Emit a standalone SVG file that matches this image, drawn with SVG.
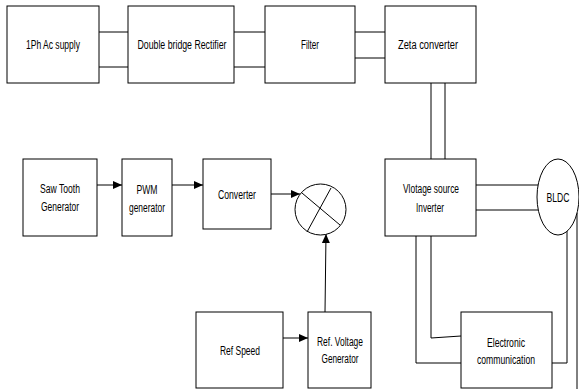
<svg xmlns="http://www.w3.org/2000/svg" width="579" height="389" viewBox="0 0 579 389">
<style>
.b{fill:#fff;stroke:#000;stroke-width:1}
.t{font-family:"Liberation Sans",Arial,sans-serif;font-size:12.5px;fill:#000;text-anchor:middle}
.c{fill:none;stroke:#000;stroke-width:1}
</style>
<defs>
<marker id="ah" markerUnits="userSpaceOnUse" markerWidth="10" markerHeight="10" refX="9" refY="4" orient="auto">
<path d="M0,0 L9,4 L0,8 Z" fill="#000"/>
</marker>
</defs>
<rect width="579" height="389" fill="#fff"/>
<g id="connectors">
<path class="c" d="M99,32H128M99,67H128"/>
<path class="c" d="M234,32H265M234,67H265"/>
<path class="c" d="M355,32H385M355,58H385"/>
<path class="c" d="M431,83V159M445,83V159"/>
<path class="c" d="M476,185H538M476,210H538"/>
<path class="c" d="M431,236V338L461,336M416,236V363H461"/>
<path class="c" d="M552,363H567V231M577,213V389"/>
<path class="c" d="M97,185H122" marker-end="url(#ah)"/>
<path class="c" d="M172,185H203" marker-end="url(#ah)"/>
<path class="c" d="M271,194H300" marker-end="url(#ah)"/>
<path class="c" d="M283,338H308" marker-end="url(#ah)"/>
<path class="c" d="M325,312L326,234" marker-end="url(#ah)"/>
</g>
<g id="n1"><rect class="b" x="7" y="6" width="92" height="77"/><text class="t" x="53" y="48.5" textLength="54" lengthAdjust="spacingAndGlyphs">1Ph Ac supply</text></g>
<g id="n2"><rect class="b" x="128" y="6" width="106" height="77"/><text class="t" x="182" y="48.5" textLength="89" lengthAdjust="spacingAndGlyphs">Double bridge Rectifier</text></g>
<g id="n3"><rect class="b" x="265" y="6" width="90" height="77"/><text class="t" x="310" y="48.5" textLength="18" lengthAdjust="spacingAndGlyphs">Filter</text></g>
<g id="n4"><rect class="b" x="385" y="6" width="91" height="77"/><text class="t" x="428" y="48.5" textLength="60" lengthAdjust="spacingAndGlyphs">Zeta converter</text></g>
<g id="n5"><rect class="b" x="23" y="159" width="74" height="77"/><text class="t" x="60" y="192.5" textLength="40" lengthAdjust="spacingAndGlyphs">Saw Tooth</text><text class="t" x="60" y="210.5" textLength="38" lengthAdjust="spacingAndGlyphs">Generator</text></g>
<g id="n6"><rect class="b" x="122" y="159" width="50" height="77"/><text class="t" x="147" y="193.5" textLength="21" lengthAdjust="spacingAndGlyphs">PWM</text><text class="t" x="147" y="211.5" textLength="36" lengthAdjust="spacingAndGlyphs">generator</text></g>
<g id="n7"><rect class="b" x="203" y="159" width="68" height="70"/><text class="t" x="237" y="198.5" textLength="38" lengthAdjust="spacingAndGlyphs">Converter</text></g>
<g id="n8"><circle class="b" cx="320.5" cy="209.5" r="25.5"/><path class="c" d="M302,193L340,225M331,188L307,232"/></g>
<g id="n9"><rect class="b" x="385" y="159" width="91" height="77"/><text class="t" x="431" y="192.5" textLength="56" lengthAdjust="spacingAndGlyphs">Vlotage source</text><text class="t" x="430" y="211.5" textLength="28" lengthAdjust="spacingAndGlyphs">Inverter</text></g>
<g id="n10"><ellipse class="b" cx="558" cy="197" rx="21" ry="38"/><text class="t" x="558" y="201.5" textLength="23" lengthAdjust="spacingAndGlyphs">BLDC</text></g>
<g id="n11"><rect class="b" x="196" y="312" width="87" height="76"/><text class="t" x="240" y="354.5" textLength="40" lengthAdjust="spacingAndGlyphs">Ref Speed</text></g>
<g id="n12"><rect class="b" x="308" y="312" width="63" height="76"/><text class="t" x="340" y="345.5" textLength="46" lengthAdjust="spacingAndGlyphs">Ref. Voltage</text><text class="t" x="340" y="362.5" textLength="37" lengthAdjust="spacingAndGlyphs">Generator</text></g>
<g id="n13"><rect class="b" x="461" y="312" width="91" height="76"/><text class="t" x="506" y="346.5" textLength="38" lengthAdjust="spacingAndGlyphs">Electronic</text><text class="t" x="506" y="363.5" textLength="58" lengthAdjust="spacingAndGlyphs">communication</text></g>
</svg>
